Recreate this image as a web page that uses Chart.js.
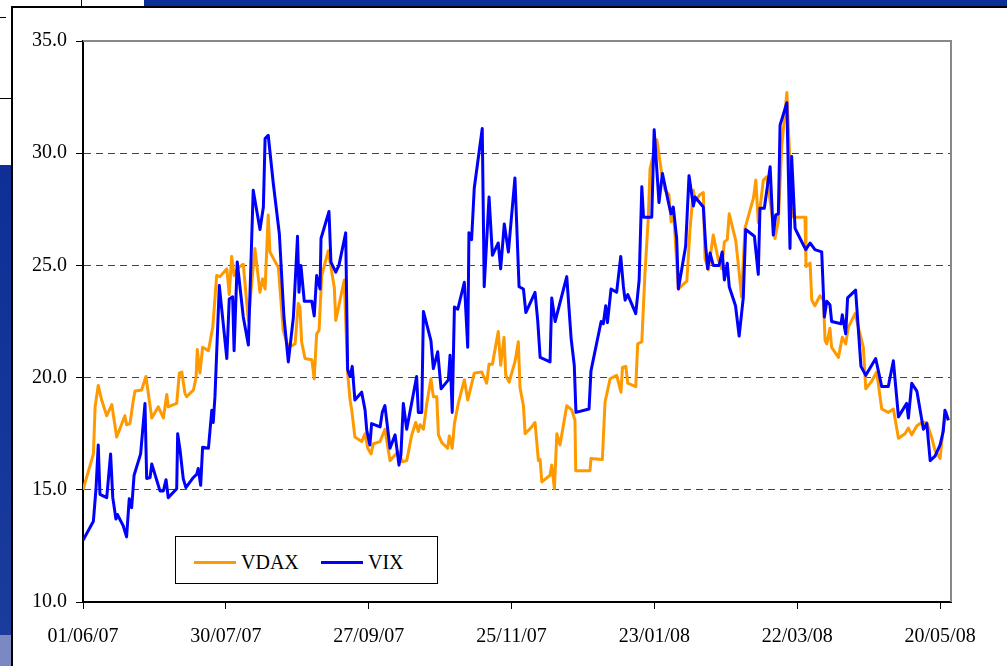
<!DOCTYPE html>
<html>
<head>
<meta charset="utf-8">
<script src="https://cdn.jsdelivr.net/npm/chart.js@4.4.1/dist/chart.umd.min.js"></script>
<style>
  html, body { margin: 0; padding: 0; background: #ffffff; }
  body { width: 1007px; height: 666px; position: relative; overflow: hidden; }
  .bg { position: absolute; }
  #chartWrap { position: absolute; left: 0; top: 0; width: 1007px; height: 666px; }
  #legend {
    position: absolute; left: 175px; top: 536px; width: 261px; height: 46px;
    border: 1px solid #000; background: #fff; box-sizing: content-box;
    font-family: "Liberation Serif", "Times New Roman", serif; font-size: 20px; color: #000;
  }
  .item { position: absolute; top: 13px; height: 24px; line-height: 24px; white-space: nowrap; }
  .swatch { display: inline-block; width: 42px; height: 3px; vertical-align: middle; margin-right: 5px; position: relative; top: -2px; }
</style>
</head>
<body>
<!-- slide background pieces -->
<div class="bg" style="left:144px;top:0;width:863px;height:6px;background:#0b2f98;"></div>
<div class="bg" style="left:0;top:165px;width:12px;height:470px;background:linear-gradient(#0e2f96,#1a3c9c);"></div>
<div class="bg" style="left:0;top:635px;width:12px;height:31px;background:#7a88c4;"></div>
<div class="bg" style="left:0;top:17px;width:6px;height:1px;background:#000;"></div>
<div class="bg" style="left:0;top:98px;width:12px;height:1px;background:#000;"></div>
<div class="bg" style="left:81px;top:0;width:1px;height:6px;background:#000;"></div>
<!-- chart object frame -->
<div class="bg" style="left:11px;top:6px;width:996px;height:660px;background:#fff;border-left:2px solid #000;border-top:2px solid #000;box-sizing:border-box;"></div>

<div id="chartWrap"><canvas id="c" width="1007" height="666"></canvas></div>
<div id="legend"></div>

<script>
// ---- data (x = days since 01/06/07) ----
const tickDays   = [0, 59, 118, 177, 236, 295, 354];
const tickLabels = ['01/06/07', '30/07/07', '27/09/07', '25/11/07', '23/01/08', '22/03/08', '20/05/08'];
const yTicks     = [10, 15, 20, 25, 30, 35];

const seriesNames = ['VDAX', 'VIX'];

const vdaxDays = [0,4.3,5.0,6.3,7.7,9.8,11.9,13.9,17.3,18.0,19.4,20.8,21.5,24.2,26.0,28.4,31.1,33.2,34.6,35.2,38.7,39.8,40.8,42.1,42.8,45.6,46.7,47.2,48.3,49.4,51.8,53.6,55.2,56.6,59.4,60.4,61.4,62.4,64.1,66.2,68.3,71.0,73.1,74.2,75.2,76.5,77.2,80.7,82.7,84.8,87.6,88.9,89.6,90.3,91.7,94.5,95.5,96.5,97.5,98.6,101.3,103.8,104.4,107.9,109.3,110.3,111.0,112.3,115.1,116.5,117.6,119.0,119.9,122.7,124.7,126.8,128.9,130.2,131.9,133.7,135.8,137.4,138.5,139.2,140.6,142.0,143.7,144.7,146.1,146.8,148.2,150.6,151.3,152.5,153.4,155.0,157.5,158.9,161.6,164.7,166.7,167.7,169.1,171.5,172.5,173.9,174.6,176.0,178.4,179.8,180.5,181.9,182.6,185.3,186.7,188.1,188.8,189.5,192.9,193.6,194.7,195.7,197.0,199.8,201.9,203.2,203.5,209.4,209.8,214.5,215.6,217.7,220.4,222.2,222.8,224.2,225.0,228.3,229.1,230.8,232.1,233.5,234.2,237.0,239.0,240.4,242.0,242.9,243.8,245.9,247.3,249.4,250.7,252.1,252.8,254.8,256.2,256.9,258.3,260.3,262.4,263.8,264.9,266.1,266.9,269.6,270.7,272.0,273.4,276.9,277.9,278.9,281.0,282.4,284.5,285.8,287.2,288.6,290.7,292.0,293.4,298.2,298.6,300.3,301.0,302.3,304.4,305.8,306.5,307.2,308.5,309.2,312.0,313.6,315.0,316.1,318.9,320.9,322.3,323.3,325.8,327.8,329.9,332.6,334.7,336.8,339.5,340.9,342.3,344.4,346.4,348.5,350.6,351.9,354.0,355.3,356.5,357.4];
const vdaxValues = [15.0,16.6,18.7,19.65,19.0,18.3,18.8,17.35,18.3,17.9,17.95,19.0,19.4,19.45,20.05,18.2,18.7,18.2,19.25,18.7,18.85,20.2,20.25,19.3,19.15,19.45,20.0,21.25,20.2,21.35,21.2,22.25,24.55,24.5,24.85,23.7,25.4,24.55,24.9,25.05,22.55,25.75,23.8,24.4,23.95,27.25,25.6,24.9,22.1,21.35,21.5,23.3,23.15,21.6,20.85,20.8,19.95,21.95,22.1,24.55,25.65,24.0,22.55,24.35,20.2,19.0,18.55,17.35,17.15,17.5,16.85,16.6,17.05,17.15,17.7,16.3,16.55,16.7,16.25,16.3,17.45,18.0,17.6,17.9,17.7,18.85,19.95,19.15,19.15,17.45,17.1,16.85,17.4,16.85,17.95,18.85,19.9,19.0,20.2,20.25,19.75,20.6,20.6,22.05,20.55,21.8,20.1,19.8,20.7,21.6,19.55,18.75,17.5,17.8,18.0,16.3,16.35,15.35,15.65,16.1,15.05,17.5,17.0,18.75,18.55,18.1,15.85,15.85,16.4,16.35,18.9,19.95,20.1,19.35,20.45,20.5,19.75,19.6,21.5,21.6,24.65,27.15,29.3,30.6,29.1,28.35,28.15,26.95,27.55,23.95,24.1,24.3,26.6,28.35,27.85,28.15,28.25,25.3,24.8,26.35,25.25,24.85,26.05,26.15,27.3,26.1,25.0,23.6,26.65,28.0,28.8,26.9,28.8,28.95,27.3,26.2,27.0,30.3,32.7,29.55,27.15,27.15,24.95,25.1,23.45,23.2,23.65,23.45,21.65,21.5,22.2,21.35,20.9,21.8,21.5,22.25,22.85,21.95,21.35,19.5,19.85,20.25,18.6,18.45,18.6,17.3,17.5,17.75,17.45,17.85,18.0,18.0,17.3,16.75,16.4,17.8,18.45,18.1];

const vixDays = [0,4.3,5.4,6.3,7.0,9.8,11.4,12.3,13.6,14.2,16.6,18.0,19.1,20.1,21.1,23.8,25.6,26.3,27.7,28.4,31.8,33.2,34.3,35.2,38.7,39.1,40.1,41.4,42.5,45.6,47.0,47.6,48.6,49.4,51.8,53.2,53.8,54.5,56.3,59.4,60.4,61.8,62.4,63.7,66.2,68.3,70.3,73.1,74.5,75.2,76.5,78.6,81.1,83.0,84.8,86.9,88.6,89.2,90.0,91.4,94.5,95.5,96.5,97.9,98.3,101.6,102.4,104.4,105.7,108.5,109.3,110.3,111.2,112.3,115.1,116.5,117.2,118.5,119.2,122.7,123.6,124.7,126.8,128.9,130.5,131.3,132.3,133.7,137.8,138.5,139.9,140.6,143.7,144.7,146.5,147.9,150.9,151.6,152.5,153.4,154.8,157.5,158.9,159.4,160.5,161.6,164.9,165.7,167.7,169.1,171.5,172.5,174.0,175.7,178.4,180.1,181.9,182.9,186.7,187.8,188.8,192.9,193.6,195.0,199.8,201.6,202.9,203.6,209.0,209.8,214.0,214.9,215.9,216.6,218.1,220.4,222.1,223.2,223.9,225.0,228.3,229.7,230.8,231.5,234.9,235.9,237.9,239.3,242.0,242.9,243.8,245.2,245.9,248.9,250.3,252.1,252.8,256.2,257.2,258.0,259.0,260.3,262.7,264.0,264.9,266.1,266.9,269.5,271.0,272.7,273.7,277.3,278.9,279.6,281.4,283.8,285.1,286.1,287.2,287.9,290.7,292.0,292.7,294.1,295.7,298.5,300.3,302.3,305.1,306.2,307.2,308.5,309.2,313.1,313.6,315.0,315.8,319.1,321.3,323.3,327.4,329.9,332.6,334.7,336.8,340.2,340.9,342.3,344.4,347.1,348.5,349.9,351.9,354.0,355.3,356.0,357.4];
const vixValues = [12.75,13.6,15.1,17.0,14.8,14.65,16.6,14.65,13.7,13.9,13.4,12.9,14.6,14.2,15.65,16.6,18.85,15.5,15.55,16.15,14.95,14.95,15.45,14.65,15.05,17.5,16.75,15.5,15.1,15.55,15.7,15.95,15.2,16.9,16.85,18.55,18.0,19.15,24.1,20.85,23.5,23.6,21.2,25.15,22.7,21.45,28.35,26.6,27.6,30.65,30.8,28.65,26.4,22.7,20.7,22.7,26.3,23.8,25.0,23.4,23.4,22.75,24.55,23.95,26.2,27.4,25.15,24.7,25.0,26.45,20.35,20.05,20.5,19.0,19.35,18.55,17.65,17.0,17.95,17.8,18.45,18.75,16.85,17.45,16.1,16.55,18.85,17.7,20.05,18.45,18.45,22.95,21.65,20.4,21.15,19.5,19.9,21.0,18.45,23.15,23.05,24.25,21.35,26.45,26.15,28.45,31.1,24.05,28.05,25.45,26.0,24.85,26.85,25.6,28.9,24.05,23.95,22.9,23.8,22.55,20.9,20.7,23.55,22.5,24.5,21.75,20.55,18.45,18.6,20.3,22.5,22.4,23.2,22.45,23.95,23.8,25.4,24.05,23.45,23.7,22.85,24.35,28.5,27.15,27.15,31.05,27.8,29.1,27.7,27.3,27.6,26.2,23.95,25.85,29.0,27.65,28.05,27.6,25.85,24.85,25.55,25.0,25.0,25.6,24.35,25.1,24.05,23.2,21.85,23.55,26.6,26.3,24.6,27.55,27.55,29.4,26.35,27.25,27.3,31.25,32.25,25.75,29.85,26.65,26.3,25.7,26.0,25.7,25.6,22.7,23.4,23.25,22.5,22.4,22.8,21.95,23.55,23.9,20.5,20.1,20.85,19.6,19.6,20.75,18.25,18.85,18.2,19.75,19.4,17.7,17.95,16.3,16.5,17.0,17.6,18.55,18.1];

const seriesColors = ['#FF9900', '#0000FF'];

// ---- chart ----
const toPoints = (xs, ys) => xs.map((x, i) => ({ x: x, y: ys[i] }));
const serif = '"Liberation Serif", "Times New Roman", serif';

const plotFrame = {
  id: 'plotFrame',
  beforeDatasetsDraw(chart) {
    const { ctx, chartArea: a } = chart;
    ctx.save();
    ctx.strokeStyle = '#888888';
    ctx.lineWidth = 2;
    ctx.beginPath();
    ctx.moveTo(a.left, a.top);
    ctx.lineTo(a.right, a.top);
    ctx.lineTo(a.right, a.bottom);
    ctx.stroke();
    ctx.restore();
  }
};

const chart = new Chart(document.getElementById('c'), {
  type: 'line',
  data: {
    datasets: [
      { label: seriesNames[0], data: toPoints(vdaxDays, vdaxValues), borderColor: seriesColors[0], backgroundColor: seriesColors[0], borderWidth: 3, pointRadius: 0, tension: 0, fill: false, order: 2, borderJoinStyle: 'round' },
      { label: seriesNames[1], data: toPoints(vixDays, vixValues), borderColor: seriesColors[1], backgroundColor: seriesColors[1], borderWidth: 3, pointRadius: 0, tension: 0, fill: false, order: 1, borderJoinStyle: 'round' }
    ]
  },
  options: {
    responsive: false,
    animation: false,
    devicePixelRatio: 1,
    layout: { padding: { left: 0, right: 56, top: 41, bottom: 0 } },
    plugins: { legend: { display: false }, tooltip: { enabled: false } },
    scales: {
      x: {
        type: 'linear',
        min: 0,
        max: 358.5,
        afterBuildTicks: (s) => { s.ticks = tickDays.map(v => ({ value: v })); },
        afterFit: (s) => { s.height = 64; },
        grid: { drawOnChartArea: false, drawTicks: true, tickLength: 7, tickColor: '#000', tickWidth: 1 },
        border: { display: true, color: '#000', width: 2 },
        ticks: {
          autoSkip: false, maxRotation: 0, padding: 16, color: '#000',
          font: { family: serif, size: 20 },
          callback: (v) => { const i = tickDays.indexOf(v); return i >= 0 ? tickLabels[i] : ''; }
        }
      },
      y: {
        min: 10,
        max: 35,
        afterBuildTicks: (s) => { s.ticks = yTicks.map(v => ({ value: v })); },
        afterFit: (s) => { s.width = 83; },
        grid: {
          color: (c) => (c.tick && (c.tick.value === 35 || c.tick.value === 10)) ? 'rgba(0,0,0,0)' : '#444444',
          lineWidth: 1, drawTicks: true, tickLength: 7, tickColor: '#000', tickWidth: 1
        },
        border: { display: true, color: '#000', width: 2, dash: [7, 5] },
        ticks: {
          padding: 9, color: '#000',
          font: { family: serif, size: 20 },
          callback: (v) => Number(v).toFixed(1)
        }
      }
    }
  },
  plugins: [plotFrame]
});

// ---- legend (HTML text built from the datasets) ----
const legend = document.getElementById('legend');
const lefts = [18, 145];
chart.data.datasets.forEach((ds, i) => {
  const it = document.createElement('div');
  it.className = 'item';
  it.style.left = lefts[i] + 'px';
  const sw = document.createElement('span');
  sw.className = 'swatch';
  sw.style.background = ds.borderColor;
  it.appendChild(sw);
  it.appendChild(document.createTextNode(ds.label));
  legend.appendChild(it);
});
</script>
</body>
</html>
